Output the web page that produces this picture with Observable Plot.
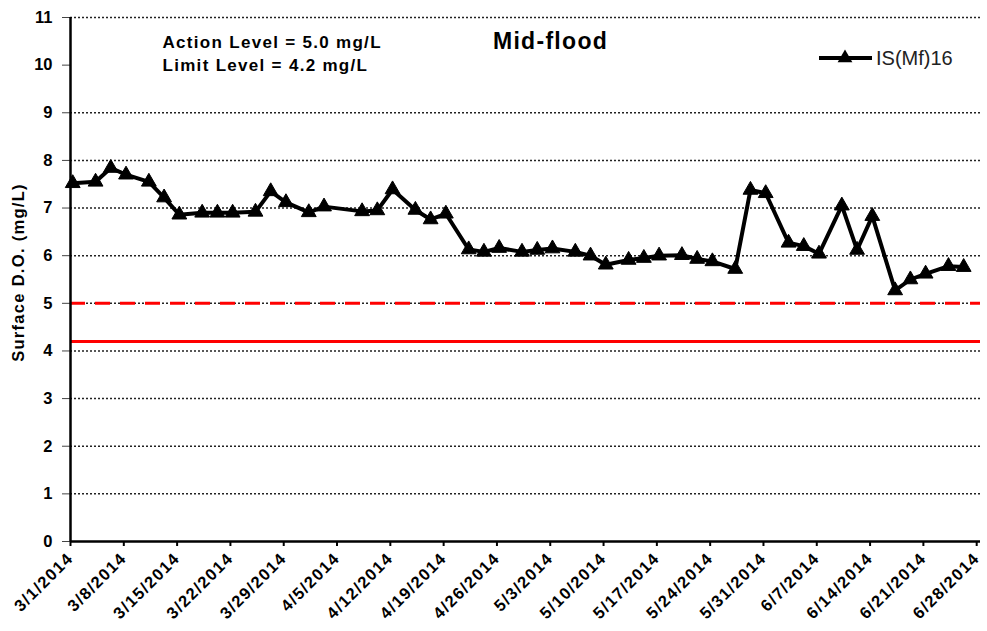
<!DOCTYPE html>
<html><head><meta charset="utf-8">
<script src="https://cdn.jsdelivr.net/npm/d3@7"></script>
<script src="https://cdn.jsdelivr.net/npm/@observablehq/plot@0.6"></script>
<style>
html,body{margin:0;padding:0;background:#fff;}
#wrap{position:relative;width:987px;height:631px;}
#legend{position:absolute;left:810px;top:40px;}
</style></head><body><div id="wrap"></div>
<script>
const sampleDates = ["3/1/2014","3/4/2014","3/6/2014","3/8/2014","3/11/2014","3/13/2014","3/15/2014","3/18/2014","3/20/2014","3/22/2014",
  "3/25/2014","3/27/2014","3/29/2014","4/1/2014","4/3/2014","4/8/2014","4/10/2014","4/12/2014","4/15/2014","4/17/2014",
  "4/19/2014","4/22/2014","4/24/2014","4/26/2014","4/29/2014","5/1/2014","5/3/2014","5/6/2014","5/8/2014","5/10/2014",
  "5/13/2014","5/15/2014","5/17/2014","5/20/2014","5/22/2014","5/24/2014","5/27/2014","5/29/2014","5/31/2014","6/3/2014",
  "6/5/2014","6/7/2014","6/10/2014","6/12/2014","6/14/2014","6/17/2014","6/19/2014","6/21/2014","6/24/2014","6/26/2014"];
const doValues = [7.52,7.55,7.84,7.70,7.55,7.22,6.86,6.90,6.90,6.90,
  6.92,7.35,7.12,6.91,7.03,6.93,6.95,7.39,6.96,6.76,
  6.88,6.13,6.08,6.16,6.08,6.12,6.15,6.08,6.00,5.81,
  5.91,5.95,6.00,6.01,5.93,5.88,5.72,7.38,7.31,6.27,
  6.20,6.04,7.05,6.12,6.83,5.27,5.50,5.62,5.78,5.76];
const xTickLabels = ["3/1/2014","3/8/2014","3/15/2014","3/22/2014","3/29/2014","4/5/2014","4/12/2014","4/19/2014","4/26/2014",
  "5/3/2014","5/10/2014","5/17/2014","5/24/2014","5/31/2014","6/7/2014","6/14/2014","6/21/2014","6/28/2014"];
const yTicks = [0,1,2,3,4,5,6,7,8,9,10,11];
const gridLines = [1,2,3,4,5,6,7,8,9,11];
const actionLevel = 5.0;
const limitLevel = 4.2;
const seriesName = "IS(Mf)16";
const chartTitle = "Mid-flood";
const yTitle = "Surface D.O. (mg/L)";
const noteLines = ["Action Level = 5.0 mg/L", "Limit Level = 4.2 mg/L"];

function parseDate(s, hour = 0) { const [m, d, y] = s.split("/").map(Number); return new Date(Date.UTC(y, m - 1, d, hour)); }
const data = sampleDates.map((s, i) => ({date: parseDate(s, 7), value: doValues[i]}));
const xTicks = xTickLabels.map(s => parseDate(s));
const xStart = xTicks[0];
const xEnd = new Date(+xTicks[xTicks.length - 1] + 12 * 3600e3);
const fmt = d => `${d.getUTCMonth() + 1}/${d.getUTCDate()}/${d.getUTCFullYear()}`;
const font = "'Liberation Sans', Arial, sans-serif";

const plot = Plot.plot({
  width: 987, height: 631, marginLeft: 70, marginRight: 7, marginTop: 17, marginBottom: 90,
  style: {fontFamily: font, fontWeight: "bold", fontSize: "16px", color: "#000", background: "#fff", overflow: "visible"},
  x: {type: "utc", domain: [xStart, xEnd]},
  y: {domain: [0, 11]},
  marks: [
    Plot.ruleY(gridLines, {stroke: "#222", strokeWidth: 1.5, strokeDasharray: "2,2"}),
    Plot.ruleY([actionLevel], {stroke: "#ff0000", strokeWidth: 3, strokeDasharray: "15,10"}),
    Plot.ruleY([limitLevel], {stroke: "#ff0000", strokeWidth: 3}),
    Plot.axisY({ticks: yTicks, tickSize: 8, tickPadding: 10, label: null, fontSize: 16.5, fontWeight: "bold", stroke: "#444"}),
    Plot.axisX({ticks: xTicks, tickFormat: fmt, tickRotate: -45, tickSize: 5, tickPadding: 9, label: null, strokeWidth: 2, fontSize: 16.5, fontWeight: "bold"}),
    Plot.ruleX([xStart], {strokeWidth: 2.5, stroke: "#000"}),
    Plot.ruleY([0], {strokeWidth: 2.5, stroke: "#000"}),
    Plot.line(data, {x: "date", y: "value", stroke: "#000", strokeWidth: 4}),
    Plot.dot(data, {x: "date", y: "value", symbol: "triangle", r: 5.5, fill: "#000", stroke: "#000", strokeWidth: 1}),
    Plot.text([chartTitle], {text: d => d, frameAnchor: "top-left", dx: 480, dy: 31, textAnchor: "middle", lineAnchor: "bottom", fontSize: 23, fontWeight: "bold", fill: "#000"}),
    Plot.text([noteLines.join("\n")], {text: d => d, frameAnchor: "top-left", dx: 92, dy: 14.5, textAnchor: "start", lineAnchor: "top", lineHeight: 1.34, fontSize: 17, fontWeight: "bold", fill: "#000"}),
    Plot.text([yTitle], {text: d => d, frameAnchor: "left", rotate: -90, dx: -52, dy: -7, textAnchor: "middle", lineAnchor: "middle", fontSize: 16.5, fontWeight: "bold", fill: "#000"})
  ]
});
document.getElementById("wrap").appendChild(plot);

// letter spacing to mimic the reference's wide glyph spacing
d3.select(plot).selectAll("g[aria-label='x-axis tick label'] text").style("letter-spacing", "1.4px");
d3.select(plot).selectAll("g[aria-label='text'] text").style("letter-spacing", "1.3px");

// legend
const lg = d3.select("#wrap").append("svg").attr("id", "legend").attr("width", 170).attr("height", 36);
lg.append("line").attr("x1", 9).attr("x2", 62).attr("y1", 18).attr("y2", 18).attr("stroke", "#000").attr("stroke-width", 4);
lg.append("path").attr("d", d3.symbol(d3.symbolTriangle, Math.PI * 30)()).attr("transform", "translate(35,18)").attr("fill", "#000");
lg.append("text").attr("x", 66).attr("y", 25).attr("font-family", font).attr("font-size", 20).attr("fill", "#222").text(seriesName);
</script>
</body></html>
